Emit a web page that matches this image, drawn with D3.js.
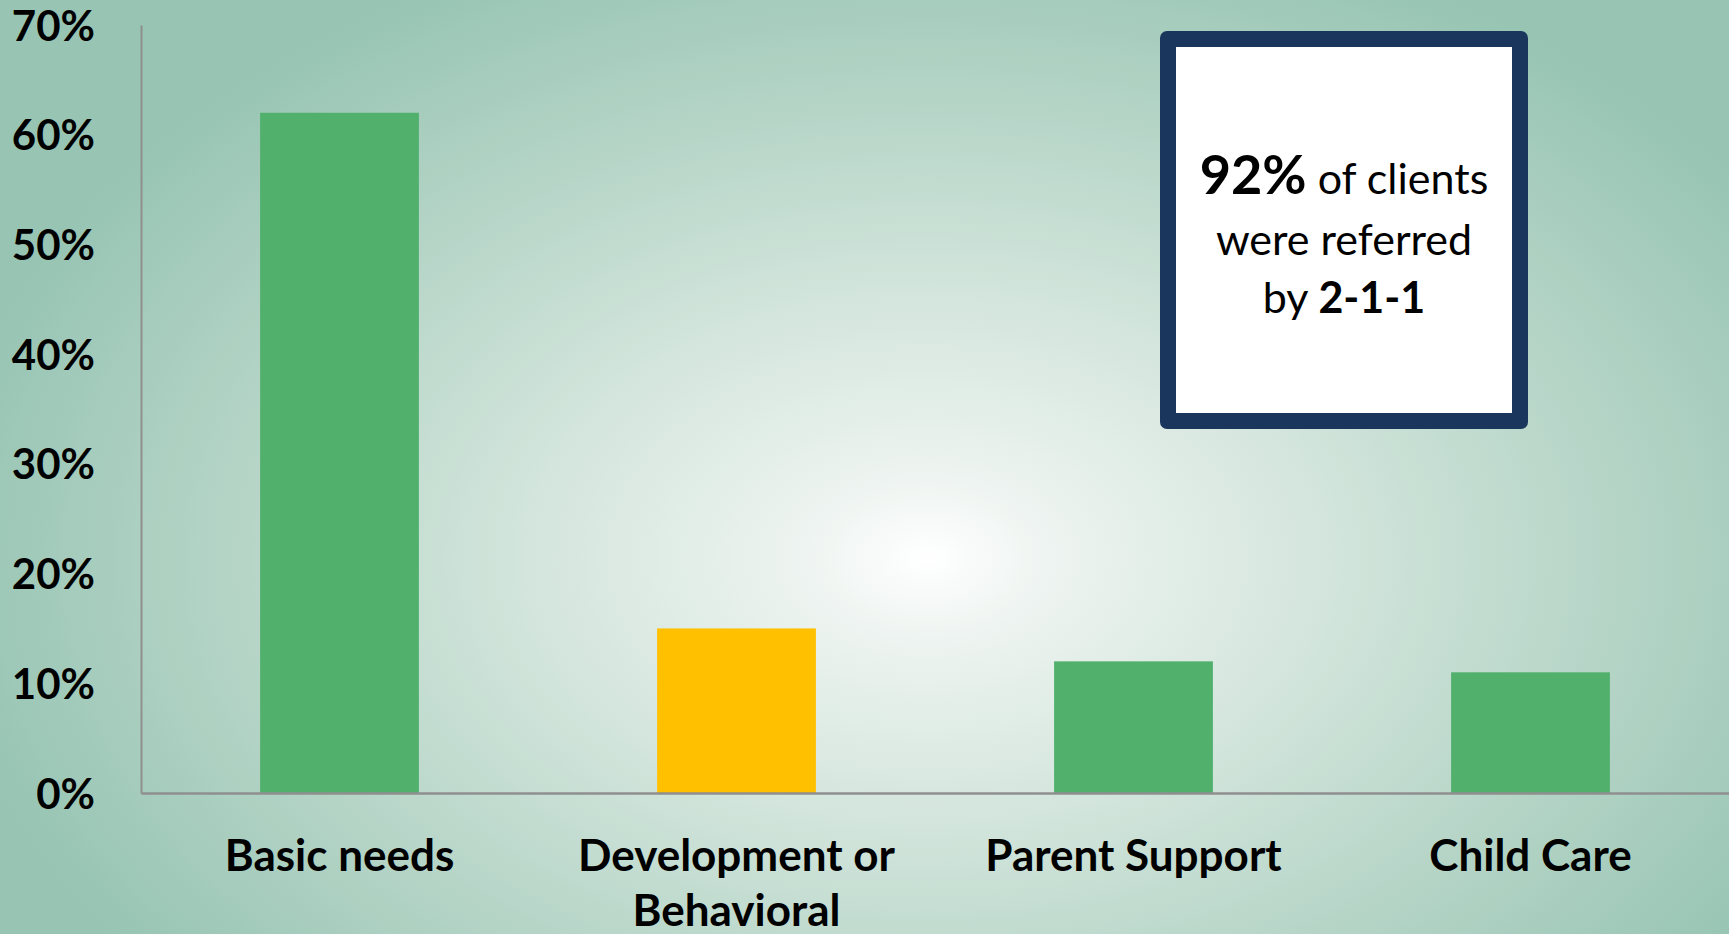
<!DOCTYPE html>
<html><head><meta charset="utf-8">
<script src="https://cdn.jsdelivr.net/npm/d3@7/dist/d3.min.js"></script>
<style>html,body{margin:0;padding:0;overflow:hidden;background:#9fc8b8}svg{display:block}</style>
</head><body>
<script>
const categories = ["Basic needs", "Development or\nBehavioral", "Parent Support", "Child Care"];
const values = [0.62, 0.15, 0.12, 0.11];
const barColors = ["#52B06D", "#FFC000", "#52B06D", "#52B06D"];
const yTicks = [0, 0.1, 0.2, 0.3, 0.4, 0.5, 0.6, 0.7];

const W = 1729, H = 934;
const svg = d3.select("body").append("svg").attr("width", W).attr("height", H);
const defs = svg.append("defs");
const rg = defs.append("radialGradient").attr("id", "bg")
  .attr("gradientUnits", "userSpaceOnUse")
  .attr("cx", 927).attr("cy", 558).attr("r", 1000)
  .attr("gradientTransform", "translate(927,558) scale(1,0.66) translate(-927,-558)");
[[0, "#ffffff"], [0.12, "#eef4f1"], [0.4, "#d3e5dc"], [0.7, "#b4d4c6"], [1, "#97c4b3"]]
  .forEach(([o, c]) => rg.append("stop").attr("offset", o).attr("stop-color", c));
svg.append("rect").attr("width", W).attr("height", H).attr("fill", "url(#bg)");

const x = d3.scaleBand().domain(categories).range([141, 1729]).paddingInner(0.6).paddingOuter(0.3);
const y = d3.scaleLinear().domain([0, 0.7]).range([793, 25]);

// bars
svg.selectAll("rect.bar").data(values).join("rect").attr("class", "bar")
  .attr("x", (d, i) => x(categories[i])).attr("width", x.bandwidth())
  .attr("y", d => y(d)).attr("height", d => y(0) - y(d))
  .attr("fill", (d, i) => barColors[i]);

const font = "Lato, 'Open Sans', sans-serif";

// y axis
const yAxis = d3.axisLeft(y).tickValues(yTicks).tickFormat(d3.format(".0%")).tickSize(0).tickPadding(46);
const gy = svg.append("g").attr("transform", "translate(141,0)").call(yAxis);
gy.select(".domain").attr("stroke", "#8f8f8f").attr("stroke-width", 2);
gy.selectAll("text").attr("font-family", font).attr("font-weight", 700).attr("font-size", 42).attr("fill", "#000").attr("dy", "0.36em");

// x axis
const xAxis = d3.axisBottom(x).tickSize(0).tickFormat("");
const gx = svg.append("g").attr("transform", "translate(0,793)").call(xAxis);
gx.select(".domain").attr("stroke", "#8f8f8f").attr("stroke-width", 2.5);
gx.selectAll(".tick").each(function (d) {
  const t = d3.select(this).append("text").attr("text-anchor", "middle")
    .attr("font-family", font).attr("font-weight", 700).attr("font-size", 44).attr("fill", "#000");
  d.split("\n").forEach((line, i) => t.append("tspan").attr("x", 0).attr("y", 78 + i * 55).text(line));
});

// callout box
svg.append("rect").attr("x", 1160).attr("y", 31).attr("width", 368).attr("height", 398).attr("rx", 7).attr("fill", "#1B365D");
svg.append("rect").attr("x", 1176).attr("y", 47).attr("width", 336).attr("height", 366).attr("fill", "#ffffff");
const cx = 1344;
const tb = svg.append("text").attr("text-anchor", "middle").attr("font-family", font).attr("fill", "#000").attr("font-size", 43);
const l1 = tb.append("tspan").attr("x", cx).attr("y", 194);
l1.append("tspan").attr("font-weight", 700).attr("font-size", 54).text("92%");
l1.append("tspan").text(" of clients");
tb.append("tspan").attr("x", cx).attr("y", 255).text("were referred");
const l3 = tb.append("tspan").attr("x", cx).attr("y", 313);
l3.append("tspan").text("by ");
l3.append("tspan").attr("font-weight", 700).text("2-1-1");
</script>
</body></html>
